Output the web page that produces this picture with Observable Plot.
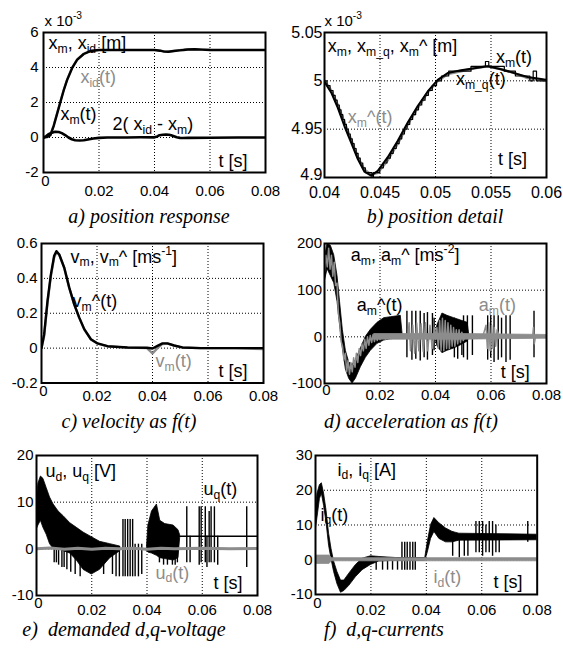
<!DOCTYPE html>
<html><head><meta charset="utf-8">
<script src="https://cdn.jsdelivr.net/npm/d3@7"></script>
<script src="https://cdn.jsdelivr.net/npm/@observablehq/plot@0.6"></script>
<style>
body{margin:0;background:#fff;}
#fig{position:relative;width:563px;height:652px;background:#fff;overflow:hidden;}
.panel{position:absolute;}
.panel svg{display:block;}
.cap{position:absolute;font-family:"Liberation Serif","Times New Roman",serif;font-style:italic;font-size:20px;line-height:14px;white-space:pre;transform:translateX(-50%);color:#000;}
</style></head><body><div id="fig"></div><script>
// ===================== DATA =====================
// a) position response (values in 1e-3 m)
const posT   = [0,0.0012,0.0025,0.0037,0.0049,0.0061,0.0073,0.0085,0.0103,0.0121,0.0145,0.0169,0.020,0.030,0.040,0.0420,0.0435,0.0450,0.0470,0.0490,0.0505,0.0520,0.0545,0.0570,0.0600,0.0700,0.0800];
const posXm  = [0,0.02,0.13,0.67,1.35,2.03,2.70,3.28,3.96,4.44,4.77,4.94,5.00,5.00,5.00,4.96,4.91,4.90,4.94,4.98,5.00,5.03,5.04,5.02,5.00,5.00,5.00];
const posXid = [0,0.03,0.16,0.72,1.40,2.08,2.74,3.32,3.99,4.46,4.79,4.95,5.00,5.00,5.00,4.97,4.92,4.91,4.95,4.99,5.02,5.04,5.05,5.03,5.01,5.00,5.00];
const errT   = [0,0.0010,0.0018,0.0030,0.0042,0.0055,0.0066,0.0078,0.0090,0.0102,0.0114,0.0130,0.0145,0.0160,0.0180,0.0200,0.0230,0.0300,0.0350,0.0400,0.0410,0.0418,0.0430,0.0442,0.0452,0.0460,0.0470,0.0480,0.0492,0.0502,0.0520,0.0600,0.0700,0.0800];
const errV   = [0,0.08,0.19,0.27,0.33,0.31,0.25,0.14,0.00,-0.10,-0.16,-0.17,-0.16,-0.11,-0.06,-0.02,0.00,0.00,0.01,0.01,0.06,0.13,0.16,0.17,0.16,0.13,0.07,0.01,-0.02,-0.03,-0.02,-0.01,0.00,0.00];
const aXLabels = ["0","0.02","0.04","0.06","0.08"];
const aYLabels = ["6","4","2","0","-2"];

// b) position detail (values in 1e-3 m)
const detT    = [0.0400,0.0406,0.0412,0.0418,0.0424,0.0430,0.0436,0.0442,0.0448,0.0457,0.0466,0.0475,0.0484,0.0493,0.0502,0.0511,0.0523,0.0535,0.0547,0.0559,0.0571,0.0583,0.0595,0.0600];
const detXm   = [4.999,4.988,4.972,4.953,4.936,4.919,4.906,4.902,4.907,4.921,4.938,4.957,4.974,4.989,5.001,5.008,5.011,5.013,5.015,5.012,5.008,5.004,5.002,5.001];
const detXhat = [5.000,4.990,4.975,4.957,4.939,4.921,4.908,4.903,4.905,4.918,4.935,4.955,4.972,4.988,5.000,5.007,5.010,5.013,5.015,5.012,5.008,5.003,5.001,5.000];
const detQT   = [0.0400,0.04023,0.0405,0.04077,0.04096,0.04114,0.04133,0.04149,0.04165,0.04181,0.04197,0.04214,0.04232,0.0425,0.04267,0.04285,0.04303,0.04322,0.04345,0.04368,0.04428,0.04441,0.04498,0.0453,0.04563,0.04593,0.04619,0.04646,0.04672,0.04696,0.0472,0.04744,0.04768,0.04794,0.04821,0.04847,0.04876,0.04906,0.04936,0.04971,0.05009,0.05054,0.05119,0.0532,0.0545,0.0548,0.0562,0.0572,0.0585,0.0588,0.0591,0.0600];
const detQV   = [5.000,4.995,4.990,4.985,4.980,4.975,4.970,4.965,4.960,4.955,4.950,4.945,4.940,4.935,4.930,4.925,4.920,4.915,4.910,4.905,4.900,4.905,4.910,4.915,4.920,4.925,4.930,4.935,4.940,4.945,4.950,4.955,4.960,4.965,4.970,4.975,4.980,4.985,4.990,4.995,5.000,5.005,5.010,5.015,5.020,5.015,5.010,5.005,5.000,5.010,5.000,5.000];
const bXLabels = ["0.04","0.045","0.05","0.055","0.06"];
const bYLabels = ["5.05","5","4.95","4.9"];

// c) velocity
const velT   = [0,0.00096,0.00216,0.00336,0.00456,0.0054,0.0064,0.0082,0.0100,0.0118,0.0136,0.0154,0.0178,0.0202,0.0238,0.0310,0.0380,0.0400,0.0418,0.0436,0.0454,0.0478,0.0508,0.0574,0.0700,0.0800];
const velHat = [0,0.08,0.27,0.42,0.53,0.556,0.537,0.461,0.347,0.251,0.175,0.109,0.051,0.027,0.011,0.004,0.002,-0.002,0.013,0.027,0.027,0.015,0.004,0.0,0.0,0.0];
const velM   = [0,0.07,0.26,0.41,0.52,0.55,0.535,0.46,0.345,0.25,0.174,0.108,0.05,0.026,0.01,0.003,0.0,-0.03,0.0,0.024,0.026,0.014,0.003,0.0,0.0,-0.005];
const cYLabels = ["0.6","0.4","0.2","0","-0.2"];

// d) acceleration  [t, low, high]
const accBandA = [[0,115,165],[0.0011,145,200],[0.0023,130,195],[0.0035,115,175],[0.0047,75,130],[0.0056,25,75],[0.0066,-25,15],[0.0077,-70,-30],[0.0089,-90,-55],[0.0101,-100,-60],[0.0113,-90,-50],[0.0131,-65,-25],[0.0149,-45,0],[0.0167,-30,15],[0.0191,-15,30],[0.0215,-8,40],[0.0239,-5,42],[0.0275,-3,45],[0.0282,-2,2]];
const accBandB = [[0.0399,-2,2],[0.0407,-20,25],[0.0425,-35,50],[0.0443,-30,45],[0.0467,-25,40],[0.0492,-18,35],[0.0516,-10,30],[0.0522,-2,2]];
const accSpikes = [[0.0297,-45,55],[0.0315,-50,55],[0.0329,-48,55],[0.0345,-52,55],[0.0359,-45,50],[0.0371,-50,52],[0.0389,-40,50],[0.0395,-30,40],[0.0468,-45,40],[0.0480,-48,35],[0.0495,-40,32],[0.0501,-45,45],[0.0515,-50,45],[0.0533,-40,45],[0.0588,-50,45],[0.0599,-45,45],[0.0611,-55,45],[0.0626,-50,45],[0.0638,-45,40],[0.0654,-55,45],[0.0669,-50,45],[0.0755,-45,55]];
const accGrayPts = [[0,140],[0.0005,175],[0.001,150],[0.0015,190],[0.002,145],[0.0025,175],[0.003,130],[0.0035,160],[0.004,110],[0.0045,115],[0.005,50],[0.0055,30],[0.006,-10],[0.0065,-20],[0.007,-50],[0.0075,-35],[0.008,-75],[0.0085,-50],[0.009,-80],[0.0095,-55],[0.010,-75],[0.0105,-45],[0.011,-65],[0.0115,-35],[0.012,-55],[0.0125,-25],[0.013,-40],[0.0135,-15],[0.014,-30],[0.0145,-5],[0.015,-25],[0.0155,0],[0.016,-18],[0.0165,3],[0.017,-12],[0.0175,5],[0.018,-10],[0.0185,5],[0.019,-8],[0.0195,4],[0.020,-6],[0.021,3],[0.022,-5],[0.023,3],[0.024,-4],[0.025,2],[0.026,-3],[0.027,2],[0.028,-3],[0.029,2],[0.030,-2],[0.0305,30],[0.031,-30],[0.0318,25],[0.0325,-35],[0.0332,30],[0.034,-30],[0.0348,28],[0.0356,-32],[0.0364,30],[0.0372,-30],[0.038,25],[0.0388,-25],[0.0396,20],[0.040,-5],[0.0405,20],[0.041,-25],[0.0415,35],[0.042,-30],[0.0425,40],[0.043,-30],[0.0435,35],[0.044,-25],[0.0445,30],[0.045,-25],[0.0455,25],[0.046,-20],[0.0465,20],[0.047,-20],[0.0475,15],[0.048,-15],[0.0485,15],[0.049,-12],[0.0495,10],[0.050,-8],[0.051,5],[0.052,-3],[0.053,2],[0.055,0],[0.057,0],[0.0582,25],[0.0587,-25],[0.0592,30],[0.0597,-30],[0.0602,25],[0.0607,-25],[0.0612,20],[0.0617,-20],[0.0622,15],[0.063,0],[0.070,0],[0.075,0],[0.0753,20],[0.0756,-15],[0.076,0],[0.080,0]];
const accGrayBand = [[0.018,-6,6],[0.050,-6,6],[0.080,-4,4]];
const dYLabels = ["200","100","0","-100"];

// e) demanded d,q-voltage
const uqBandA = [[0,4,10],[0.0007,5,14],[0.0016,6,15.5],[0.0025,4.5,15],[0.0037,3,13],[0.0049,1,11],[0.0062,0,9.5],[0.008,0,8],[0.0098,-0.5,7],[0.0122,-1,5.5],[0.0146,-2.5,4.5],[0.017,-4.5,3.5],[0.020,-5.5,2.5],[0.023,-4.5,1.5],[0.0267,-2,1],[0.0303,-0.5,0.5]];
const uqBandB = [[0.0400,-0.5,0.5],[0.0405,-0.8,5],[0.0418,-1,8],[0.0436,-1.5,9.5],[0.0448,-2,6],[0.0466,-2.2,5.3],[0.0496,-2.5,5],[0.0514,-2,4],[0.0520,2.3,2.9]];
const uqMid  = [[0.0303,0],[0.0400,0]];
const uqTail = [[0.0518,2.7],[0.0800,2.7]];
const uqSpikes = [[0.0064,-3,5],[0.0072,-3,4],[0.0080,-3.5,4],[0.0092,-4,3],[0.0100,-4,3],[0.0110,-4.5,3],[0.0124,-5,2],[0.0140,-5.5,2],[0.0158,-6,2],[0.0243,-5.5,0.5],[0.0275,-5.5,0.5],[0.0288,-6,0.5],[0.0300,-6,0.5],[0.0313,-6,6.3],[0.0321,-6,6.3],[0.0330,-6,6.3],[0.0339,-6,6.3],[0.0348,-6,6.3],[0.0357,-6,1],[0.0369,-6,1],[0.0381,-5.5,1],[0.0445,-3,4],[0.0460,-3.5,4],[0.0474,-3.5,4],[0.0492,-3.5,4],[0.0502,-3.5,3],[0.0510,-3,3],[0.0544,-3,9],[0.0556,-3,2.7],[0.0589,-3.5,9],[0.0596,-3,9],[0.0611,-3,9],[0.0617,-4,2.7],[0.0625,-3,8],[0.0632,-3,9],[0.0644,-3,9],[0.0656,-3.5,2.7],[0.0761,-4,9]];
const udLine = [[0,0],[0.005,0.2],[0.01,-0.1],[0.015,0.1],[0.02,-0.1],[0.025,0.1],[0.03,0],[0.035,0.1],[0.04,-0.1],[0.045,0.1],[0.05,0],[0.06,0.1],[0.07,0],[0.08,0.1]];
const eYLabels = ["20","10","0","-10"];

// f) d,q-currents
const iqBand = [[0,8,13],[0.0007,12,19],[0.0016,17.5,21.5],[0.0023,19,22],[0.0031,15.5,19],[0.0040,10.5,14],[0.0049,4,7.5],[0.0058,0,3],[0.0067,-3.5,-0.5],[0.0079,-7,-3.5],[0.0092,-9.5,-6],[0.0104,-9,-6],[0.0122,-7.5,-4],[0.0146,-5,-1.5],[0.0170,-3,0.3],[0.0200,-1.5,1],[0.0230,-0.5,0.8],[0.0290,-0.3,0.5],[0.0396,-0.3,0.5],[0.0405,2,5],[0.0417,6,10],[0.0429,8,12],[0.0447,6,10.5],[0.0471,5,9],[0.0495,5,8],[0.0519,5.5,7.5],[0.0800,5.6,7.2]];
const iqSpikes = [[0.0219,-3,0.5],[0.0242,-3,0.5],[0.0260,-3,0.5],[0.0278,-3,0.5],[0.0296,-3,0.5],[0.0312,-3,5],[0.0322,-3,5],[0.0331,-3,5],[0.0341,-3,5],[0.0351,-3,5],[0.0360,-3,5],[0.0495,1,8],[0.0519,0.5,7],[0.0537,1,7],[0.0550,1,7],[0.0579,2,11],[0.0591,2,11],[0.0603,1,11],[0.0615,2,10],[0.0627,2,11],[0.0639,1,11],[0.0651,2,10],[0.0663,2,7],[0.0766,5,11]];
const idBand = [[0,-1.2,1.2],[0.005,-1.2,1.2],[0.006,-0.45,0.45],[0.080,-0.45,0.45]];
const fYLabels = ["30","20","10","0","-10"];
const tLabels = aXLabels;

// ===================== DRAWING =====================
const BLACK = "#000", GRAY = "#8c8c8c";
const SANS = '"Liberation Sans", Arial, Helvetica, sans-serif';
const pts = (T, V) => T.map((t, i) => ({t, v: V[i]}));
const pairs = rows => rows.map(d => ({t: d[0], v: d[1]}));
const line = (data, stroke, w, curve) => Plot.line(data, {x: "t", y: "v", stroke, strokeWidth: w, clip: true, strokeLinejoin: "round", curve: curve || "linear"});
const band = (rows, fill) => Plot.areaY(rows, {x: d => d[0], y1: d => d[1], y2: d => d[2], fill, stroke: fill, strokeWidth: 0.8, clip: true});
const spikes = (rows, stroke, w) => Plot.ruleX(rows, {x: d => d[0], y1: d => d[1], y2: d => d[2], stroke, strokeWidth: w, clip: true});

function rich(el, fs) {
  const s = el.textContent;
  if (!/[_^]\{/.test(s)) return;
  while (el.firstChild) el.removeChild(el.firstChild);
  const re = /([_^])\{([^}]*)\}/g;
  let last = 0, m, cur = 0;
  const add = (txt, mode) => {
    if (!txt) return;
    const ts = document.createElementNS("http://www.w3.org/2000/svg", "tspan");
    const off = mode === "_" ? 0.22 * fs : mode === "^" ? -0.42 * fs : 0;
    if (off !== cur) { ts.setAttribute("dy", off - cur); cur = off; }
    if (mode) ts.setAttribute("font-size", (0.68 * fs).toFixed(1));
    ts.textContent = txt;
    el.appendChild(ts);
  };
  while ((m = re.exec(s))) { add(s.slice(last, m.index), null); add(m[2], m[1]); last = re.lastIndex; }
  add(s.slice(last), null);
}

const fig = document.getElementById("fig");
function panel(cfg) {
  const [L, T, R, B] = cfg.frame;
  const mL = 44, mR = 14, mT = 30, mB = 30;
  const W = (R - L) + mL + mR, H = (B - T) + mT + mB;
  const xv = cfg.xLabels.map(Number), yv = cfg.yLabels.map(Number);
  const xl = new Map(xv.map((v, i) => [v, cfg.xLabels[i]]));
  const yl = new Map(yv.map((v, i) => [v, cfg.yLabels[i]]));
  const tfs = cfg.tickFont || 15, lfs = 18;
  const notes = cfg.notes.filter(n => !n.gray), grayNotes = cfg.notes.filter(n => n.gray);
  const x0 = cfg.padX0 != null ? xv.slice(0, 1) : [];
  const xr = cfg.padX0 != null ? xv.slice(1) : xv;
  const yMain = cfg.yBottomDy ? yv.slice(0, -1) : yv;
  const yBot = cfg.yBottomDy ? yv.slice(-1) : [];
  const chart = Plot.plot({
    width: W, height: H, marginLeft: mL, marginRight: mR, marginTop: mT, marginBottom: mB,
    style: {fontFamily: SANS, fontSize: tfs + "px", color: "#000", background: "transparent", overflow: "visible"},
    x: {domain: cfg.xDomain, label: null},
    y: {domain: cfg.yDomain, label: null},
    marks: [
      Plot.gridX(xv.slice(1, -1), {stroke: "#000", strokeOpacity: 1, strokeWidth: 1, strokeDasharray: "1,2"}),
      Plot.gridY(yv.slice(1, -1), {stroke: "#000", strokeOpacity: 1, strokeWidth: 1, strokeDasharray: "1,2"}),
      ...cfg.marks,
      Plot.axisX(xr, {tickSize: 0, tickPadding: cfg.padX, tickFormat: v => xl.get(v), fontSize: tfs, label: null}),
      ...(x0.length ? [Plot.axisX(x0, {tickSize: 0, tickPadding: cfg.padX0, dx: 2, tickFormat: v => xl.get(v), fontSize: tfs, label: null})] : []),
      Plot.axisY(yMain, {tickSize: 0, tickPadding: cfg.padY, tickFormat: v => yl.get(v), fontSize: tfs, label: null}),
      ...(yBot.length ? [Plot.axisY(yBot, {tickSize: 0, tickPadding: cfg.padY, dy: cfg.yBottomDy, tickFormat: v => yl.get(v), fontSize: tfs, label: null})] : []),
      Plot.text(notes, {x: "t", y: "v", text: "s", fill: BLACK, textAnchor: "start", lineAnchor: "bottom", fontSize: lfs}),
      Plot.text(grayNotes, {x: "t", y: "v", text: "s", fill: GRAY, textAnchor: "start", lineAnchor: "bottom", fontSize: lfs}),
      ...(cfg.exp ? [Plot.text([cfg.exp], {x: "t", y: "v", text: "s", fill: BLACK, textAnchor: "start", lineAnchor: "bottom", fontSize: 15})] : []),
      Plot.frame({stroke: "#000", strokeWidth: 2})
    ]
  });
  chart.querySelectorAll("text").forEach(el => {
    const g = el.closest("[font-size]");
    const fs = g ? parseFloat(g.getAttribute("font-size")) : lfs;
    rich(el, fs || lfs);
  });
  const div = document.createElement("div");
  div.className = "panel";
  div.style.left = (L - mL) + "px"; div.style.top = (T - mT) + "px";
  div.style.width = W + "px"; div.style.height = H + "px";
  div.appendChild(chart);
  fig.appendChild(div);
  const cap = document.createElement("div");
  cap.className = "cap";
  cap.textContent = cfg.caption[0];
  cap.style.left = cfg.caption[1] + "px";
  // line-height 14px, font 20px: baseline sits 13.75px below the box top
  cap.style.top = (cfg.caption[2] - 13.75) + "px";
  fig.appendChild(cap);
}

// a)
panel({
  frame: [43, 32, 265, 172], xDomain: [0, 0.08], yDomain: [-2, 6],
  xLabels: aXLabels, yLabels: aYLabels, padX: 13, padX0: 3, padY: 5,
  marks: [
    line(pts(posT, posXid), GRAY, 2.2),
    line(pts(posT, posXm), BLACK, 2.4),
    line(pts(errT, errV), BLACK, 2.6)
  ],
  exp: {t: 0.0004, v: 6.4, s: "x 10^{-3}"},
  notes: [
    {t: 0.0018, v: 5.07, s: "x_{m}, x_{id} [m]"},
    {t: 0.0133, v: 3.09, s: "x_{id}(t)", gray: true},
    {t: 0.0061, v: 1.0, s: "x_{m}(t)"},
    {t: 0.0249, v: 0.42, s: "2( x_{id} - x_{m})"},
    {t: 0.0631, v: -1.66, s: "t [s]"}
  ],
  caption: ["a) position response", 149, 223]
});

// b)
panel({
  frame: [323.6, 32, 545.6, 177], xDomain: [0.04, 0.06], yDomain: [4.9, 5.05],
  xLabels: bXLabels, yLabels: bYLabels, padX: 9, padY: 2, tickFont: 16, yBottomDy: -3,
  marks: [
    line(pts(detT, detXhat), GRAY, 2.6),
    line(pts(detQT, detQV), BLACK, 1.2, "step-after"),
    line(pts(detT, detXm), BLACK, 2.0)
  ],
  exp: {t: 0.04, v: 5.0572, s: "x 10^{-3}"},
  notes: [
    {t: 0.0403, v: 5.030, s: "x_{m}, x_{m_q}, x_{m}^ [m]"},
    {t: 0.05544, v: 5.018, s: "x_{m}(t)"},
    {t: 0.05184, v: 4.9955, s: "x_{m_q}(t)"},
    {t: 0.0421, v: 4.9559, s: "x_{m}^(t)", gray: true},
    {t: 0.05562, v: 4.9127, s: "t [s]"}
  ],
  caption: ["b) position detail", 435, 223]
});

// c)
panel({
  frame: [41, 243, 263, 382.5], xDomain: [0, 0.08], yDomain: [-0.2, 0.6],
  xLabels: tLabels, yLabels: cYLabels, padX: 7.5, padX0: 2.5, padY: 4,
  marks: [
    line(pts(velT, velM), GRAY, 2.4),
    line(pts(velT, velHat), BLACK, 2.4)
  ],
  notes: [
    {t: 0.01045, v: 0.491, s: "v_{m}, v_{m}^ [ms^{-1}]"},
    {t: 0.0112, v: 0.235, s: "v_{m}^(t)"},
    {t: 0.0411, v: -0.109, s: "v_{m}(t)", gray: true},
    {t: 0.0638, v: -0.167, s: "t [s]"}
  ],
  caption: ["c) velocity as f(t)", 129, 428]
});

// d)
panel({
  frame: [323.7, 242.5, 545.7, 382.5], xDomain: [0, 0.08], yDomain: [-100, 200],
  xLabels: tLabels, yLabels: dYLabels, padX: 6, padX0: 0.5, padY: 2.5,
  marks: [
    band(accBandA, BLACK),
    band(accBandB, BLACK),
    spikes(accSpikes, BLACK, 1.4),
    band(accGrayBand, GRAY),
    line(pairs(accGrayPts), GRAY, 1.5)
  ],
  notes: [
    {t: 0.00948, v: 162.5, s: "a_{m}, a_{m}^ [ms^{-2}]"},
    {t: 0.01164, v: 55.4, s: "a_{m}^(t)"},
    {t: 0.0556, v: 55.4, s: "a_{m}(t)", gray: true},
    {t: 0.0635, v: -87.6, s: "t [s]"}
  ],
  caption: ["d) acceleration as f(t)", 411, 428]
});

// e)
panel({
  frame: [36, 455, 257, 595], xDomain: [0, 0.08], yDomain: [-10, 20],
  xLabels: tLabels, yLabels: eYLabels, padX: 8.5, padX0: 2, padY: 3,
  marks: [
    band(uqBandA, BLACK),
    band(uqBandB, BLACK),
    spikes(uqSpikes, BLACK, 1.4),
    line(pairs(uqMid), BLACK, 1.5),
    line(pairs(uqTail), BLACK, 1.6),
    line(pairs(udLine), GRAY, 3)
  ],
  notes: [
    {t: 0.00326, v: 15.35, s: "u_{d}, u_{q} [V]"},
    {t: 0.06045, v: 11.43, s: "u_{q}(t)"},
    {t: 0.0431, v: -6.36, s: "u_{d}(t)", gray: true},
    {t: 0.0641, v: -8.5, s: "t [s]"}
  ],
  caption: ["e)  demanded d,q-voltage", 124, 636]
});

// f)
panel({
  frame: [315, 455, 536.7, 594], xDomain: [0, 0.08], yDomain: [-10, 30],
  xLabels: tLabels, yLabels: fYLabels, padX: 9.5, padX0: 2.5, padY: 3,
  marks: [
    band(iqBand, BLACK),
    spikes(iqSpikes, BLACK, 1.4),
    band(idBand, GRAY)
  ],
  notes: [
    {t: 0.00794, v: 24.24, s: "i_{d}, i_{q} [A]"},
    {t: 0.0018, v: 11.29, s: "i_{q}(t)"},
    {t: 0.0426, v: -6.83, s: "i_{d}(t)", gray: true},
    {t: 0.0642, v: -8.27, s: "t [s]"}
  ],
  caption: ["f)  d,q-currents", 384, 636]
});
</script></body></html>
